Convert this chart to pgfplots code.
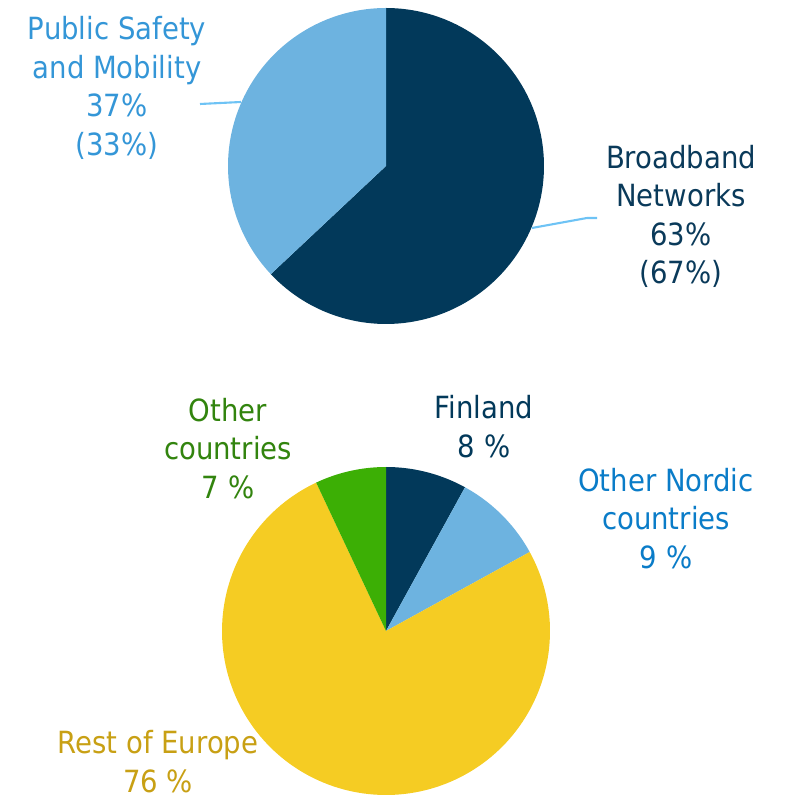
\documentclass[border=0pt]{standalone}
\usepackage{pgfplots}
\pgfplotsset{compat=1.18}
\usepackage{fontspec}
\setmainfont{DejaVu Sans}[FakeStretch=0.9]
\definecolor{navy}{RGB}{2,57,90}
\definecolor{lblue}{RGB}{109,179,224}
\definecolor{psText}{RGB}{52,150,215}
\definecolor{bbText}{RGB}{10,58,90}
\definecolor{onText}{RGB}{10,124,200}
\definecolor{grText}{RGB}{50,132,14}
\definecolor{grSlice}{RGB}{60,175,5}
\definecolor{yeSlice}{RGB}{245,204,35}
\definecolor{yeText}{RGB}{200,160,20}
\definecolor{leader}{RGB}{110,195,245}
% data (percent)
\def\bbVal{63}\def\psVal{37}
\def\fiVal{8}\def\onVal{9}\def\reVal{76}\def\ocVal{7}
% geometry (centres and radii in picture units)
\def\tcx{386}\def\tcy{630}\def\tr{158}
\def\bcx{386}\def\bcy{165}\def\br{164}
\pgfmathsetmacro\aA{90-3.6*\bbVal}
\pgfmathsetmacro\bA{90-3.6*\fiVal}
\pgfmathsetmacro\bB{90-3.6*(\fiVal+\onVal)}
\pgfmathsetmacro\bC{90-3.6*(\fiVal+\onVal+\reVal)}
\pgfmathsetmacro\bD{90-3.6*(\fiVal+\onVal+\reVal+\ocVal)}
\tikzset{lbl/.style={font=\fontsize{8.7}{10.95}\selectfont,align=center,inner sep=0pt}}
\begin{document}
\begin{tikzpicture}
\begin{axis}[width=7.85cm,height=7.96cm,scale only axis,
  xmin=0,xmax=785,ymin=0,ymax=796,hide axis,clip=false]
% top pie
\addplot[fill=navy,draw=none,domain=\aA:90,samples=120,variable=\t]
  ({\tcx+\tr*cos(t)},{\tcy+\tr*sin(t)}) -- (axis cs:\tcx,\tcy) -- cycle;
\addplot[fill=lblue,draw=none,domain=90:\aA+360,samples=80,variable=\t]
  ({\tcx+\tr*cos(t)},{\tcy+\tr*sin(t)}) -- (axis cs:\tcx,\tcy) -- cycle;
% bottom pie
\addplot[fill=navy,draw=none,domain=\bA:90,samples=30,variable=\t]
  ({\bcx+\br*cos(t)},{\bcy+\br*sin(t)}) -- (axis cs:\bcx,\bcy) -- cycle;
\addplot[fill=lblue,draw=none,domain=\bB:\bA,samples=30,variable=\t]
  ({\bcx+\br*cos(t)},{\bcy+\br*sin(t)}) -- (axis cs:\bcx,\bcy) -- cycle;
\addplot[fill=yeSlice,draw=none,domain=\bC:\bB,samples=150,variable=\t]
  ({\bcx+\br*cos(t)},{\bcy+\br*sin(t)}) -- (axis cs:\bcx,\bcy) -- cycle;
\addplot[fill=grSlice,draw=none,domain=\bD:\bC,samples=30,variable=\t]
  ({\bcx+\br*cos(t)},{\bcy+\br*sin(t)}) -- (axis cs:\bcx,\bcy) -- cycle;
% leader lines
\addplot[leader,line width=0.6pt] coordinates {(200,692) (241,694)};
\addplot[leader,line width=0.6pt] coordinates {(532,568) (587,578) (597,578)};
% labels
\node[lbl,text=psText] at (axis cs:117,708) {Public Safety\\and Mobility\\37\%\\(33\%)};
\node[lbl,text=bbText] at (axis cs:681,579.5) {Broadband\\Networks\\63\%\\(67\%)};
\node[lbl,text=navy] at (axis cs:484,369.5) {Finland\\8 \%};
\node[lbl,text=grText] at (axis cs:228,347.5) {Other\\countries\\7 \%};
\node[lbl,text=onText] at (axis cs:666,277.5) {Other Nordic\\countries\\9 \%};
\node[lbl,text=yeText] at (axis cs:158,34.5) {Rest of Europe\\76 \%};
\end{axis}
\pgfresetboundingbox
\useasboundingbox (current axis.south west) rectangle (current axis.north east);
\end{tikzpicture}
\end{document}
